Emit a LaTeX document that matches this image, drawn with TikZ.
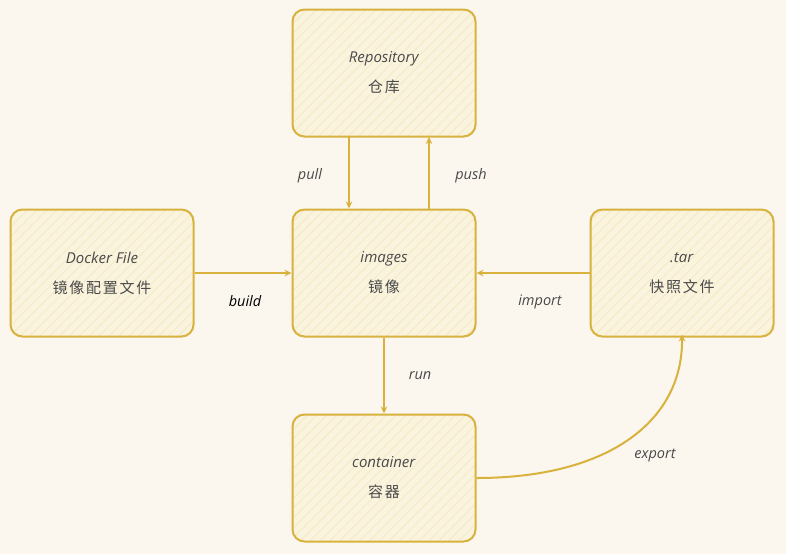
\documentclass[tikz,border=0pt]{standalone}
\usepackage{fontspec}
\setmainfont{Open Sans}
\newfontfamily\cjk[LetterSpace=12]{Noto Sans CJK SC}
\usetikzlibrary{arrows.meta,patterns.meta}
\definecolor{paper}{HTML}{FBF7EF}
\definecolor{gold}{HTML}{D8B23C}
\definecolor{cream}{HTML}{FAF3DE}
\definecolor{hatch}{HTML}{F5EBC6}
\definecolor{ink}{HTML}{4A4A4A}
\begin{document}
\begin{tikzpicture}[x=1pt,y=-1pt,
  box/.style={draw=gold, line width=2pt, rounded corners=12pt,
    preaction={fill=cream},
    pattern={Lines[angle=45,distance=7pt,line width=1pt]}, pattern color=hatch,
    minimum width=183pt, minimum height=127pt, align=center,
    text=ink, font=\fontsize{15}{18}\selectfont},
  flow/.style={draw=gold, line width=2pt, -{Stealth[length=7pt,width=6.5pt]}},
  tag/.style={text=ink, font=\fontsize{14.5}{16}\selectfont\itshape}]
		\fill[paper] (0,0) rectangle (786,554);
		\useasboundingbox (0,0) rectangle (786,554);

		\node[box] at (384,73) (Repo) {\textit{Repository}\\[12pt]{\cjk 仓库}};
		\node[box] at (384,273) (Img) {\textit{images}\\[12pt]{\cjk 镜像}};
		\node[box] at (102,273) (Docker) {\textit{Docker File}\\[12pt]{\cjk 镜像配置文件}};
		\node[box] at (682,273) (Tar) {\textit{.tar}\\[12pt]{\cjk 快照文件}};
		\node[box] at (384,478) (Cont) {\textit{container}\\[12pt]{\cjk 容器}};

		\node[tag] at (310,176) (PullTag) {pull};
		\node[tag] at (471,176) (PushTag) {push};
		\node[tag, text=black] at (245,301) (BuildTag) {build};
		\node[tag] at (540,302) (ImportTag) {import};
		\node[tag] at (420,376) (RunTag) {run};
		\node[tag] at (655,455) (ExportTag) {export};

		\draw[flow] ([xshift=-35pt]Repo.south) -- ([xshift=-35pt]Img.north);
		\draw[flow] ([xshift=45pt]Img.north) -- ([xshift=45pt]Repo.south);
		\draw[flow] (Docker.east) -- (Img.west);
		\draw[flow] (Tar.west) -- (Img.east);
		\draw[flow] (Img.south) -- (Cont.north);
		\draw[flow] (Cont.east) .. controls (610,478) and (683,420) .. ([yshift=3pt]Tar.south);
\end{tikzpicture}
\end{document}
